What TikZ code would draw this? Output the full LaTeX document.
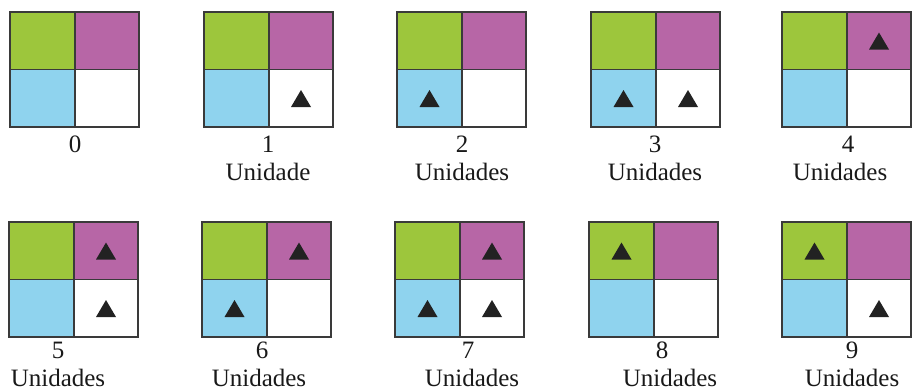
\documentclass[tikz,border=0pt]{standalone}
\usepackage{fontspec}
\setmainfont{Liberation Serif}
\definecolor{qgreen}{HTML}{9DC63C}
\definecolor{qpink}{HTML}{B766A6}
\definecolor{qblue}{HTML}{8FD3EE}
\definecolor{gridline}{HTML}{3A3A3A}
\definecolor{triink}{HTML}{222222}
\tikzset{
  frame/.style={draw=gridline, line width=1.1pt},
  tri/.style={fill=triink},
  lab/.style={font=\fontsize{25}{30}\selectfont, inner sep=0pt, anchor=base, text=black!90}
}
% triangle marker centred at (#1,#2)
\newcommand\marktri[2]{\fill[tri] ({#1-10},{#2+8.5}) -- ({#1+10},{#2+8.5}) -- (#1,{#2-8.5}) -- cycle;}
\begin{document}
\begin{tikzpicture}[x=1pt,y=-1pt]
\useasboundingbox (0,0) rectangle (912,391);
% grids: left, top, marks in green / pink / blue / white cell
\foreach \gx/\gy/\mg/\mp/\mb/\mw in {
  10/12/0/0/0/0, 204/12/0/0/0/1, 397/12/0/0/1/0, 591/12/0/0/1/1, 782/12/0/1/0/0,
  9/222/0/1/0/1, 202/222/0/1/1/0, 395/222/0/1/1/1, 589/222/1/0/0/0, 782/222/1/0/0/1}{
  \fill[qgreen] (\gx,\gy) rectangle ++(65,57.5);
  \fill[qpink] ({\gx+65},\gy) rectangle ++(64,57.5);
  \fill[qblue] (\gx,{\gy+57.5}) rectangle ++(65,57.5);
  \fill[white] ({\gx+65},{\gy+57.5}) rectangle ++(64,57.5);
  \draw[frame] (\gx,\gy) rectangle ++(129,115);
  \draw[frame] ({\gx+65},\gy) -- ++(0,115);
  \draw[frame] (\gx,{\gy+57.5}) -- ++(129,0);
  \ifnum\mg=1 \marktri{\gx+32.5}{\gy+29}\fi
  \ifnum\mp=1 \marktri{\gx+97}{\gy+29}\fi
  \ifnum\mb=1 \marktri{\gx+32.5}{\gy+86.5}\fi
  \ifnum\mw=1 \marktri{\gx+97}{\gy+86.5}\fi
}
% first row labels
\node[lab] (n0) at (75,152) {0};
\node[lab] (n1) at (268,152) {1};
\node[lab] (w1) at (268,180) {Unidade};
\node[lab] (n2) at (462,152) {2};
\node[lab] (w2) at (462,180) {Unidades};
\node[lab] (n3) at (655,152) {3};
\node[lab] (w3) at (655,180) {Unidades};
\node[lab] (n4) at (848,152) {4};
\node[lab] (w4) at (840,180) {Unidades};
% second row labels
\node[lab] (n5) at (58,358) {5};
\node[lab] (w5) at (58,386) {Unidades};
\node[lab] (n6) at (262,358) {6};
\node[lab] (w6) at (259,386) {Unidades};
\node[lab] (n7) at (468,358) {7};
\node[lab] (w7) at (472,386) {Unidades};
\node[lab] (n8) at (662,358) {8};
\node[lab] (w8) at (670,386) {Unidades};
\node[lab] (n9) at (852,358) {9};
\node[lab] (w9) at (852,386) {Unidades};
\end{tikzpicture}
\end{document}
